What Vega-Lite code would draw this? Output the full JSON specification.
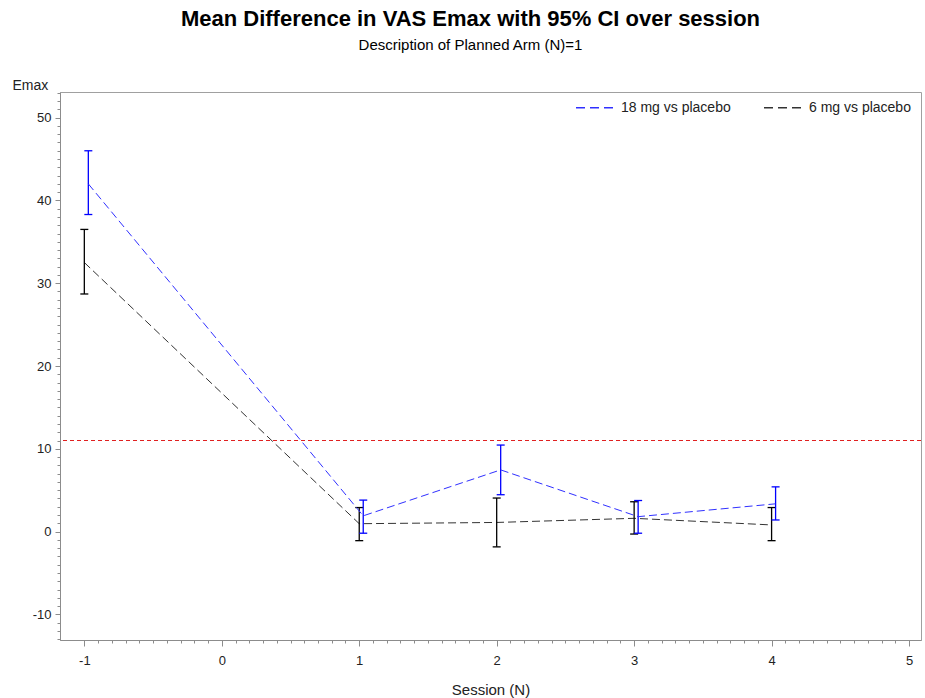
{
  "$schema": "https://vega.github.io/schema/vega-lite/v6.json",
  "autosize": "none",
  "width": 861,
  "height": 548,
  "padding": {"left": 60, "top": 92, "right": 4, "bottom": 58},
  "background": "white",
  "title": {
    "text": "Mean Difference in VAS Emax with 95% CI over session",
    "subtitle": "Description of Planned Arm (N)=1",
    "anchor": "middle",
    "frame": "group",
    "dx": -20,
    "offset": 24,
    "font": "Liberation Sans",
    "fontSize": 22,
    "fontWeight": "bold",
    "color": "#000000",
    "subtitleFont": "Liberation Sans",
    "subtitleFontSize": 15,
    "subtitleColor": "#000000",
    "subtitlePadding": 7
  },
  "config": {
    "view": {"stroke": "#a0a0a0", "strokeWidth": 1},
    "font": "Liberation Sans",
    "axis": {"grid": false, "labelFont": "Liberation Sans", "titleFont": "Liberation Sans", "labelColor": "#222222", "titleColor": "#222222", "tickColor": "#8c8c8c", "domainColor": "#8c8c8c", "labelFontSize": 13, "titleFontSize": 14, "titleFontWeight": "normal", "labelOverlap": false, "labelBound": false}
  },
  "data": {
    "values": [
      {"session": -1, "group": "18 mg vs placebo", "mean": 42.0, "lower": 38.3, "upper": 46.0},
      {"session": 1, "group": "18 mg vs placebo", "mean": 1.9, "lower": -0.2, "upper": 3.8},
      {"session": 2, "group": "18 mg vs placebo", "mean": 7.45, "lower": 4.45, "upper": 10.45},
      {"session": 3, "group": "18 mg vs placebo", "mean": 1.8, "lower": -0.2, "upper": 3.75},
      {"session": 4, "group": "18 mg vs placebo", "mean": 3.35, "lower": 1.4, "upper": 5.4},
      {"session": -1, "group": "6 mg vs placebo", "mean": 32.5, "lower": 28.7, "upper": 36.5},
      {"session": 1, "group": "6 mg vs placebo", "mean": 0.95, "lower": -1.1, "upper": 2.9},
      {"session": 2, "group": "6 mg vs placebo", "mean": 1.1, "lower": -1.85, "upper": 4.05},
      {"session": 3, "group": "6 mg vs placebo", "mean": 1.6, "lower": -0.3, "upper": 3.6},
      {"session": 4, "group": "6 mg vs placebo", "mean": 0.8, "lower": -1.1, "upper": 2.9}
    ]
  },
  "resolve": {"axis": {"x": "independent", "y": "independent"}},
  "layer": [
    {
      "transform": [{"filter": "datum.group === '6 mg vs placebo'"}],
      "mark": {"type": "line", "strokeWidth": 1, "strokeDash": [8, 4]},
      "encoding": {
        "x": {"field": "session", "type": "quantitative", "scale": {"domain": [-1.177, 5.087], "nice": false, "zero": false},
          "axis": {"orient": "bottom", "values": [-1,-0.9,-0.8,-0.7,-0.6,-0.5,-0.4,-0.3,-0.2,-0.1,0,0.1,0.2,0.3,0.4,0.5,0.6,0.7,0.8,0.9,1,1.1,1.2,1.3,1.4,1.5,1.6,1.7,1.8,1.9,2,2.1,2.2,2.3,2.4,2.5,2.6,2.7,2.8,2.9,3,3.1,3.2,3.3,3.4,3.5,3.6,3.7,3.8,3.9,4,4.1,4.2,4.3,4.4,4.5,4.6,4.7,4.8,4.9,5],
            "labelExpr": "abs(datum.value - round(datum.value)) < 0.01 ? '' + round(datum.value) : ''",
            "tickSize": {"condition": {"test": "abs(datum.value - round(datum.value)) < 0.01", "value": 6}, "value": 3},
            "labelPadding": 8, "title": "Session (N)", "titleFontSize": 15, "titlePadding": 15, "domain": true}},
        "y": {"field": "mean", "type": "quantitative", "scale": {"domain": [-13.1, 53.1], "nice": false, "zero": false},
          "axis": {"orient": "left", "values": [-13,-12,-11,-10,-9,-8,-7,-6,-5,-4,-3,-2,-1,0,1,2,3,4,5,6,7,8,9,10,11,12,13,14,15,16,17,18,19,20,21,22,23,24,25,26,27,28,29,30,31,32,33,34,35,36,37,38,39,40,41,42,43,44,45,46,47,48,49,50,51,52,53],
            "labelExpr": "datum.value % 10 === 0 ? '' + datum.value : ''",
            "tickSize": {"condition": {"test": "datum.value % 10 === 0", "value": 5}, "value": 3},
            "labelPadding": 4, "title": "Emax", "titleAngle": 0, "titleAlign": "left", "titleBaseline": "alphabetic", "titleX": -48, "titleY": -3, "domain": true}},
        "color": {"field": "group", "type": "nominal",
          "scale": {"domain": ["18 mg vs placebo", "6 mg vs placebo"], "range": ["#3030ff", "#333333"]},
          "legend": {"orient": "none", "legendX": 515, "legendY": -4, "direction": "horizontal", "title": null, "padding": 0, "symbolType": "stroke", "symbolDash": [9, 5], "symbolSize": 1369, "symbolStrokeWidth": 1.5, "labelFont": "Liberation Sans", "labelFontSize": 14, "labelColor": "#222222", "labelOffset": 7, "columnPadding": 30}}
      }
    },
    {
      "data": {"values": [{"ref": 11}]},
      "mark": {"type": "rule", "color": "#e02020", "strokeWidth": 1, "strokeDash": [4, 3]},
      "encoding": {
        "y": {"field": "ref", "type": "quantitative", "scale": {"domain": [-13.1, 53.1], "nice": false, "zero": false}, "axis": null}
      }
    },
    {
      "transform": [{"filter": "datum.group === '6 mg vs placebo'"}],
      "mark": {"type": "rule", "color": "#000000", "strokeWidth": 1.3},
      "encoding": {
        "x": {"field": "session", "type": "quantitative", "scale": {"domain": [-1.177, 5.087], "nice": false, "zero": false}, "axis": null},
        "y": {"field": "lower", "type": "quantitative", "scale": {"domain": [-13.1, 53.1], "nice": false, "zero": false}, "axis": null},
        "y2": {"field": "upper"}
      }
    },
    {
      "transform": [{"filter": "datum.group === '6 mg vs placebo'"}],
      "mark": {"type": "point", "shape": "stroke", "size": 64, "color": "#000000", "strokeWidth": 1.3, "opacity": 1},
      "encoding": {
        "x": {"field": "session", "type": "quantitative", "scale": {"domain": [-1.177, 5.087], "nice": false, "zero": false}, "axis": null},
        "y": {"field": "lower", "type": "quantitative", "scale": {"domain": [-13.1, 53.1], "nice": false, "zero": false}, "axis": null}
      }
    },
    {
      "transform": [{"filter": "datum.group === '6 mg vs placebo'"}],
      "mark": {"type": "point", "shape": "stroke", "size": 64, "color": "#000000", "strokeWidth": 1.3, "opacity": 1},
      "encoding": {
        "x": {"field": "session", "type": "quantitative", "scale": {"domain": [-1.177, 5.087], "nice": false, "zero": false}, "axis": null},
        "y": {"field": "upper", "type": "quantitative", "scale": {"domain": [-13.1, 53.1], "nice": false, "zero": false}, "axis": null}
      }
    },
    {
      "transform": [{"filter": "datum.group === '18 mg vs placebo'"}],
      "mark": {"type": "rule", "color": "#0000ff", "strokeWidth": 1.3, "xOffset": 4},
      "encoding": {
        "x": {"field": "session", "type": "quantitative", "scale": {"domain": [-1.177, 5.087], "nice": false, "zero": false}, "axis": null},
        "y": {"field": "lower", "type": "quantitative", "scale": {"domain": [-13.1, 53.1], "nice": false, "zero": false}, "axis": null},
        "y2": {"field": "upper"}
      }
    },
    {
      "transform": [{"filter": "datum.group === '18 mg vs placebo'"}],
      "mark": {"type": "point", "shape": "stroke", "size": 64, "color": "#0000ff", "strokeWidth": 1.3, "opacity": 1, "xOffset": 4},
      "encoding": {
        "x": {"field": "session", "type": "quantitative", "scale": {"domain": [-1.177, 5.087], "nice": false, "zero": false}, "axis": null},
        "y": {"field": "lower", "type": "quantitative", "scale": {"domain": [-13.1, 53.1], "nice": false, "zero": false}, "axis": null}
      }
    },
    {
      "transform": [{"filter": "datum.group === '18 mg vs placebo'"}],
      "mark": {"type": "point", "shape": "stroke", "size": 64, "color": "#0000ff", "strokeWidth": 1.3, "opacity": 1, "xOffset": 4},
      "encoding": {
        "x": {"field": "session", "type": "quantitative", "scale": {"domain": [-1.177, 5.087], "nice": false, "zero": false}, "axis": null},
        "y": {"field": "upper", "type": "quantitative", "scale": {"domain": [-13.1, 53.1], "nice": false, "zero": false}, "axis": null}
      }
    },
    {
      "transform": [{"filter": "datum.group === '18 mg vs placebo'"}],
      "mark": {"type": "line", "strokeWidth": 1, "strokeDash": [8, 4], "xOffset": 4},
      "encoding": {
        "x": {"field": "session", "type": "quantitative", "scale": {"domain": [-1.177, 5.087], "nice": false, "zero": false}, "axis": null},
        "y": {"field": "mean", "type": "quantitative", "scale": {"domain": [-13.1, 53.1], "nice": false, "zero": false}, "axis": null},
        "color": {"field": "group", "type": "nominal",
          "scale": {"domain": ["18 mg vs placebo", "6 mg vs placebo"], "range": ["#3030ff", "#333333"]},
          "legend": {"orient": "none", "legendX": 515, "legendY": -4, "direction": "horizontal", "title": null, "padding": 0, "symbolType": "stroke", "symbolDash": [9, 5], "symbolSize": 1369, "symbolStrokeWidth": 1.5, "labelFont": "Liberation Sans", "labelFontSize": 14, "labelColor": "#222222", "labelOffset": 7, "columnPadding": 30}}
      }
    }
  ]
}
